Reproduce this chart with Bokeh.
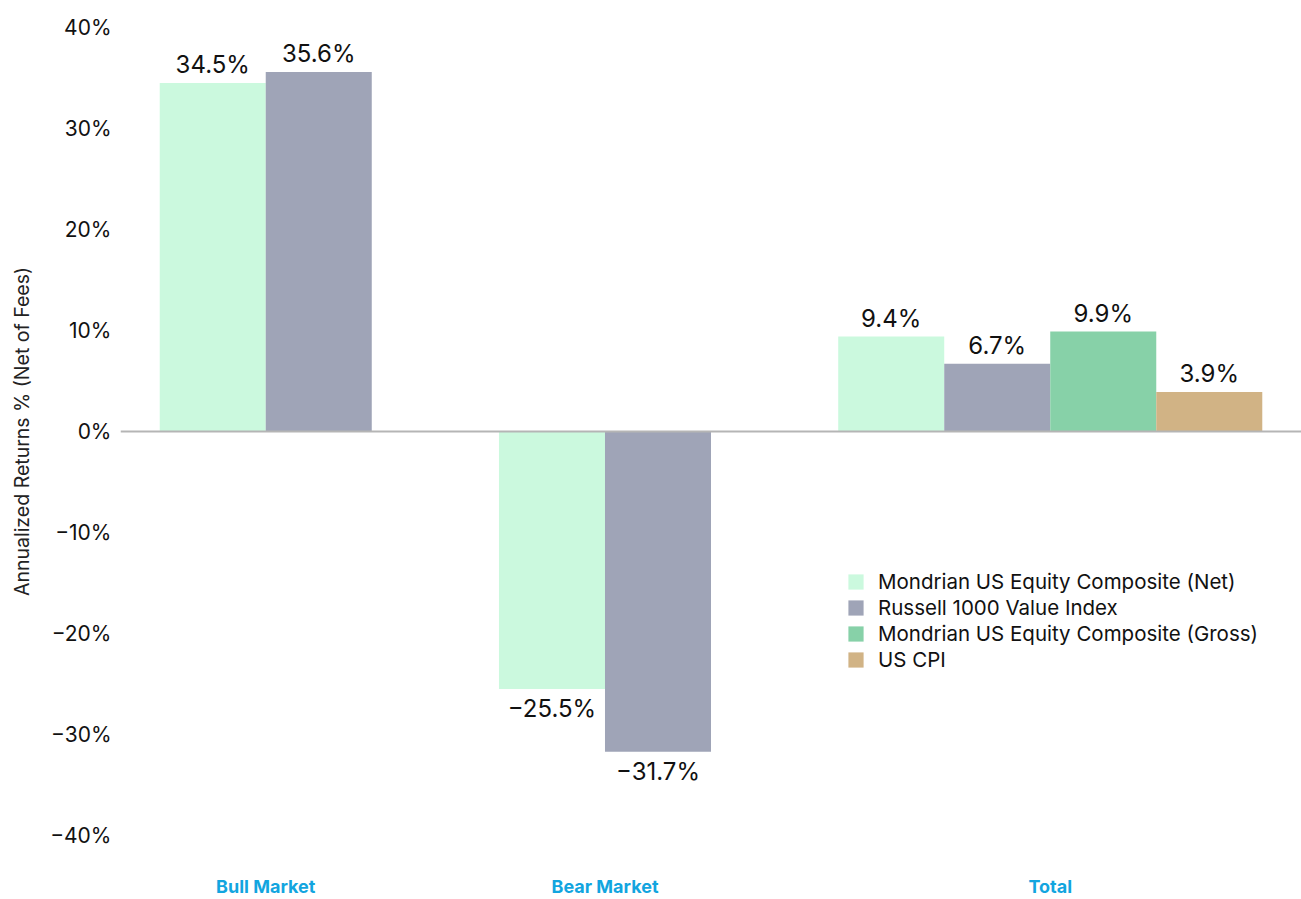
from bokeh.plotting import figure
from bokeh.models import ColumnDataSource, FactorRange, Range1d, Span, FixedTicker
from bokeh.core.properties import value
from bokeh.embed import file_html
from bokeh.resources import INLINE

# ---- data ----
periods = ["Bull Market", "Bear Market", "Total"]
# sub-factor keys are blank so that only the period names show on the axis
series_keys = [" ", "  ", "   ", "    "]
series_names = [
    "Mondrian US Equity Composite (Net)",
    "Russell 1000 Value Index",
    "Mondrian US Equity Composite (Gross)",
    "US CPI",
]
series_colors = ["#cbf9de", "#9fa4b7", "#87d1a8", "#d1b385"]
bull_returns = [34.5, 35.6]
bear_returns = [-25.5, -31.7]
total_returns = [9.4, 6.7, 9.9, 3.9]
y_ticks = [-40, -30, -20, -10, 0, 10, 20, 30, 40]
y_tick_labels = ["\u221240%", "\u221230%", "\u221220%", "\u221210%", "0%", "10%", "20%", "30%", "40%"]

FONT = "Inter"

# ---- build table ----
period_values = [bull_returns, bear_returns, total_returns]
xs, vals, names, cols, labels = [], [], [], [], []
for period, rets in zip(periods, period_values):
    for i, v in enumerate(rets):
        xs.append((period, series_keys[i]))
        vals.append(v)
        names.append(series_names[i])
        cols.append(series_colors[i])
        labels.append(f"{v:.1f}%".replace("-", "\u2212"))

src = ColumnDataSource(dict(x=xs, y=vals, series=names, color=cols, label=labels))
pos = [i for i, v in enumerate(vals) if v >= 0]
neg = [i for i, v in enumerate(vals) if v < 0]
src_pos = ColumnDataSource(dict(x=[xs[i] for i in pos], y=[vals[i] for i in pos], label=[labels[i] for i in pos]))
src_neg = ColumnDataSource(dict(x=[xs[i] for i in neg], y=[vals[i] for i in neg], label=[labels[i] for i in neg]))

x_range = FactorRange(*xs, factor_padding=0, group_padding=1.2,
                      range_padding=0.37, range_padding_units="absolute")

p = figure(width=1301, height=899, x_range=x_range, y_range=Range1d(-40, 40),
           output_backend="svg", toolbar_location=None,
           min_border_left=120, min_border_right=0, min_border_top=27, min_border_bottom=10)
p.outline_line_color = None
p.xgrid.visible = False
p.ygrid.visible = False
p.background_fill_color = "white"
p.border_fill_color = "white"

p.vbar(x="x", top="y", width=1.0, source=src, fill_color="color", line_color=None,
       legend_field="series")

p.add_layout(Span(location=0, dimension="width", line_color="#b5b5b5", line_width=2))

p.text(x="x", y="y", text="label", source=src_pos, text_font=value(FONT),
       text_font_size="24px", text_align="center", text_baseline="bottom",
       y_offset=-4, text_color="#111111")
p.text(x="x", y="y", text="label", source=src_neg, text_font=value(FONT),
       text_font_size="24px", text_align="center", text_baseline="top",
       y_offset=5, text_color="#111111")

# y axis
ya = p.yaxis[0]
ya.ticker = FixedTicker(ticks=y_ticks)
ya.major_label_overrides = {t: l for t, l in zip(y_ticks, y_tick_labels)}
ya.axis_line_color = None
ya.major_tick_line_color = None
ya.minor_tick_line_color = None
ya.major_label_text_font = FONT
ya.major_label_text_font_size = "21px"
ya.major_label_text_color = "#111111"
ya.major_label_standoff = 3
ya.axis_label = "Annualized Returns % (Net of Fees)"
ya.axis_label_text_font = FONT
ya.axis_label_text_font_size = "19.5px"
ya.axis_label_text_font_style = "normal"
ya.axis_label_text_color = "#222222"
ya.axis_label_standoff = 13

# x axis
xa = p.xaxis[0]
xa.axis_line_color = None
xa.major_tick_line_color = None
xa.minor_tick_line_color = None
xa.major_label_text_font_size = "4px"
xa.major_label_standoff = 13
xa.separator_line_color = None
xa.group_text_font = FONT
xa.group_text_font_size = "18px"
xa.group_text_font_style = "bold"
xa.group_text_color = "#12a5df"
xa.group_text_line_height = 0.9

# legend
lg = p.legend[0]
lg.location = (726, 163)
lg.border_line_color = None
lg.background_fill_alpha = 0
lg.padding = 0
lg.margin = 0
lg.glyph_width = 19
lg.glyph_height = 19
lg.label_standoff = 13
lg.spacing = 1
lg.label_text_font = FONT
lg.label_text_font_size = "20.5px"
lg.label_text_color = "#111111"

open("out.html", "w").write(file_html(p, INLINE))
